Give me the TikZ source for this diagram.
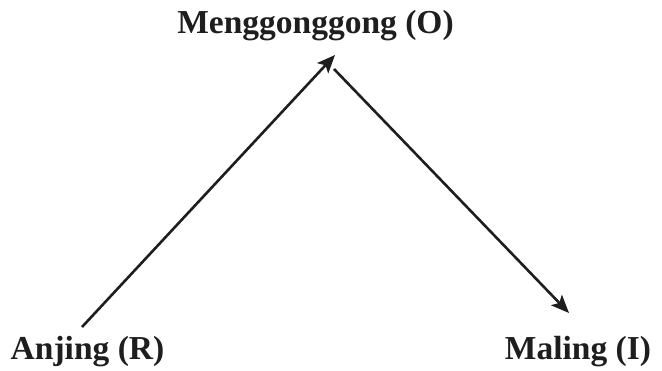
\documentclass[tikz,border=0pt]{standalone}
\usepackage{fontspec}
\setmainfont{Liberation Serif}
\usepackage{tikz}
\usetikzlibrary{arrows.meta, positioning, calc}
\definecolor{lnblack}{RGB}{30,30,30}

\begin{document}
\begin{tikzpicture}[x=1pt, y=-1pt,
  lbl/.style={anchor=base, inner sep=0pt, font=\fontsize{33.5}{40}\selectfont\bfseries, text=lnblack},
  arr/.style={-{Stealth[length=18pt, width=15pt, inset=4pt]}, line width=2.6pt, draw=lnblack}
]
\useasboundingbox (0,0) rectangle (662,370);
\node[lbl] (o) at (315.5,33) {Menggonggong (O)};
\node[lbl] (r) at (87.5,359.5) {Anjing (R)};
\node[lbl] (i) at (578,359.5) {Maling (I)};
% ends of the connectors
\coordinate (rtop) at (82,327);
\coordinate (otip) at (335,55);
\coordinate (obot) at (334,69);
\coordinate (itip) at (569,313);
\draw[arr] (rtop) -- (otip);
\draw[arr] (obot) -- (itip);
\end{tikzpicture}
\end{document}
